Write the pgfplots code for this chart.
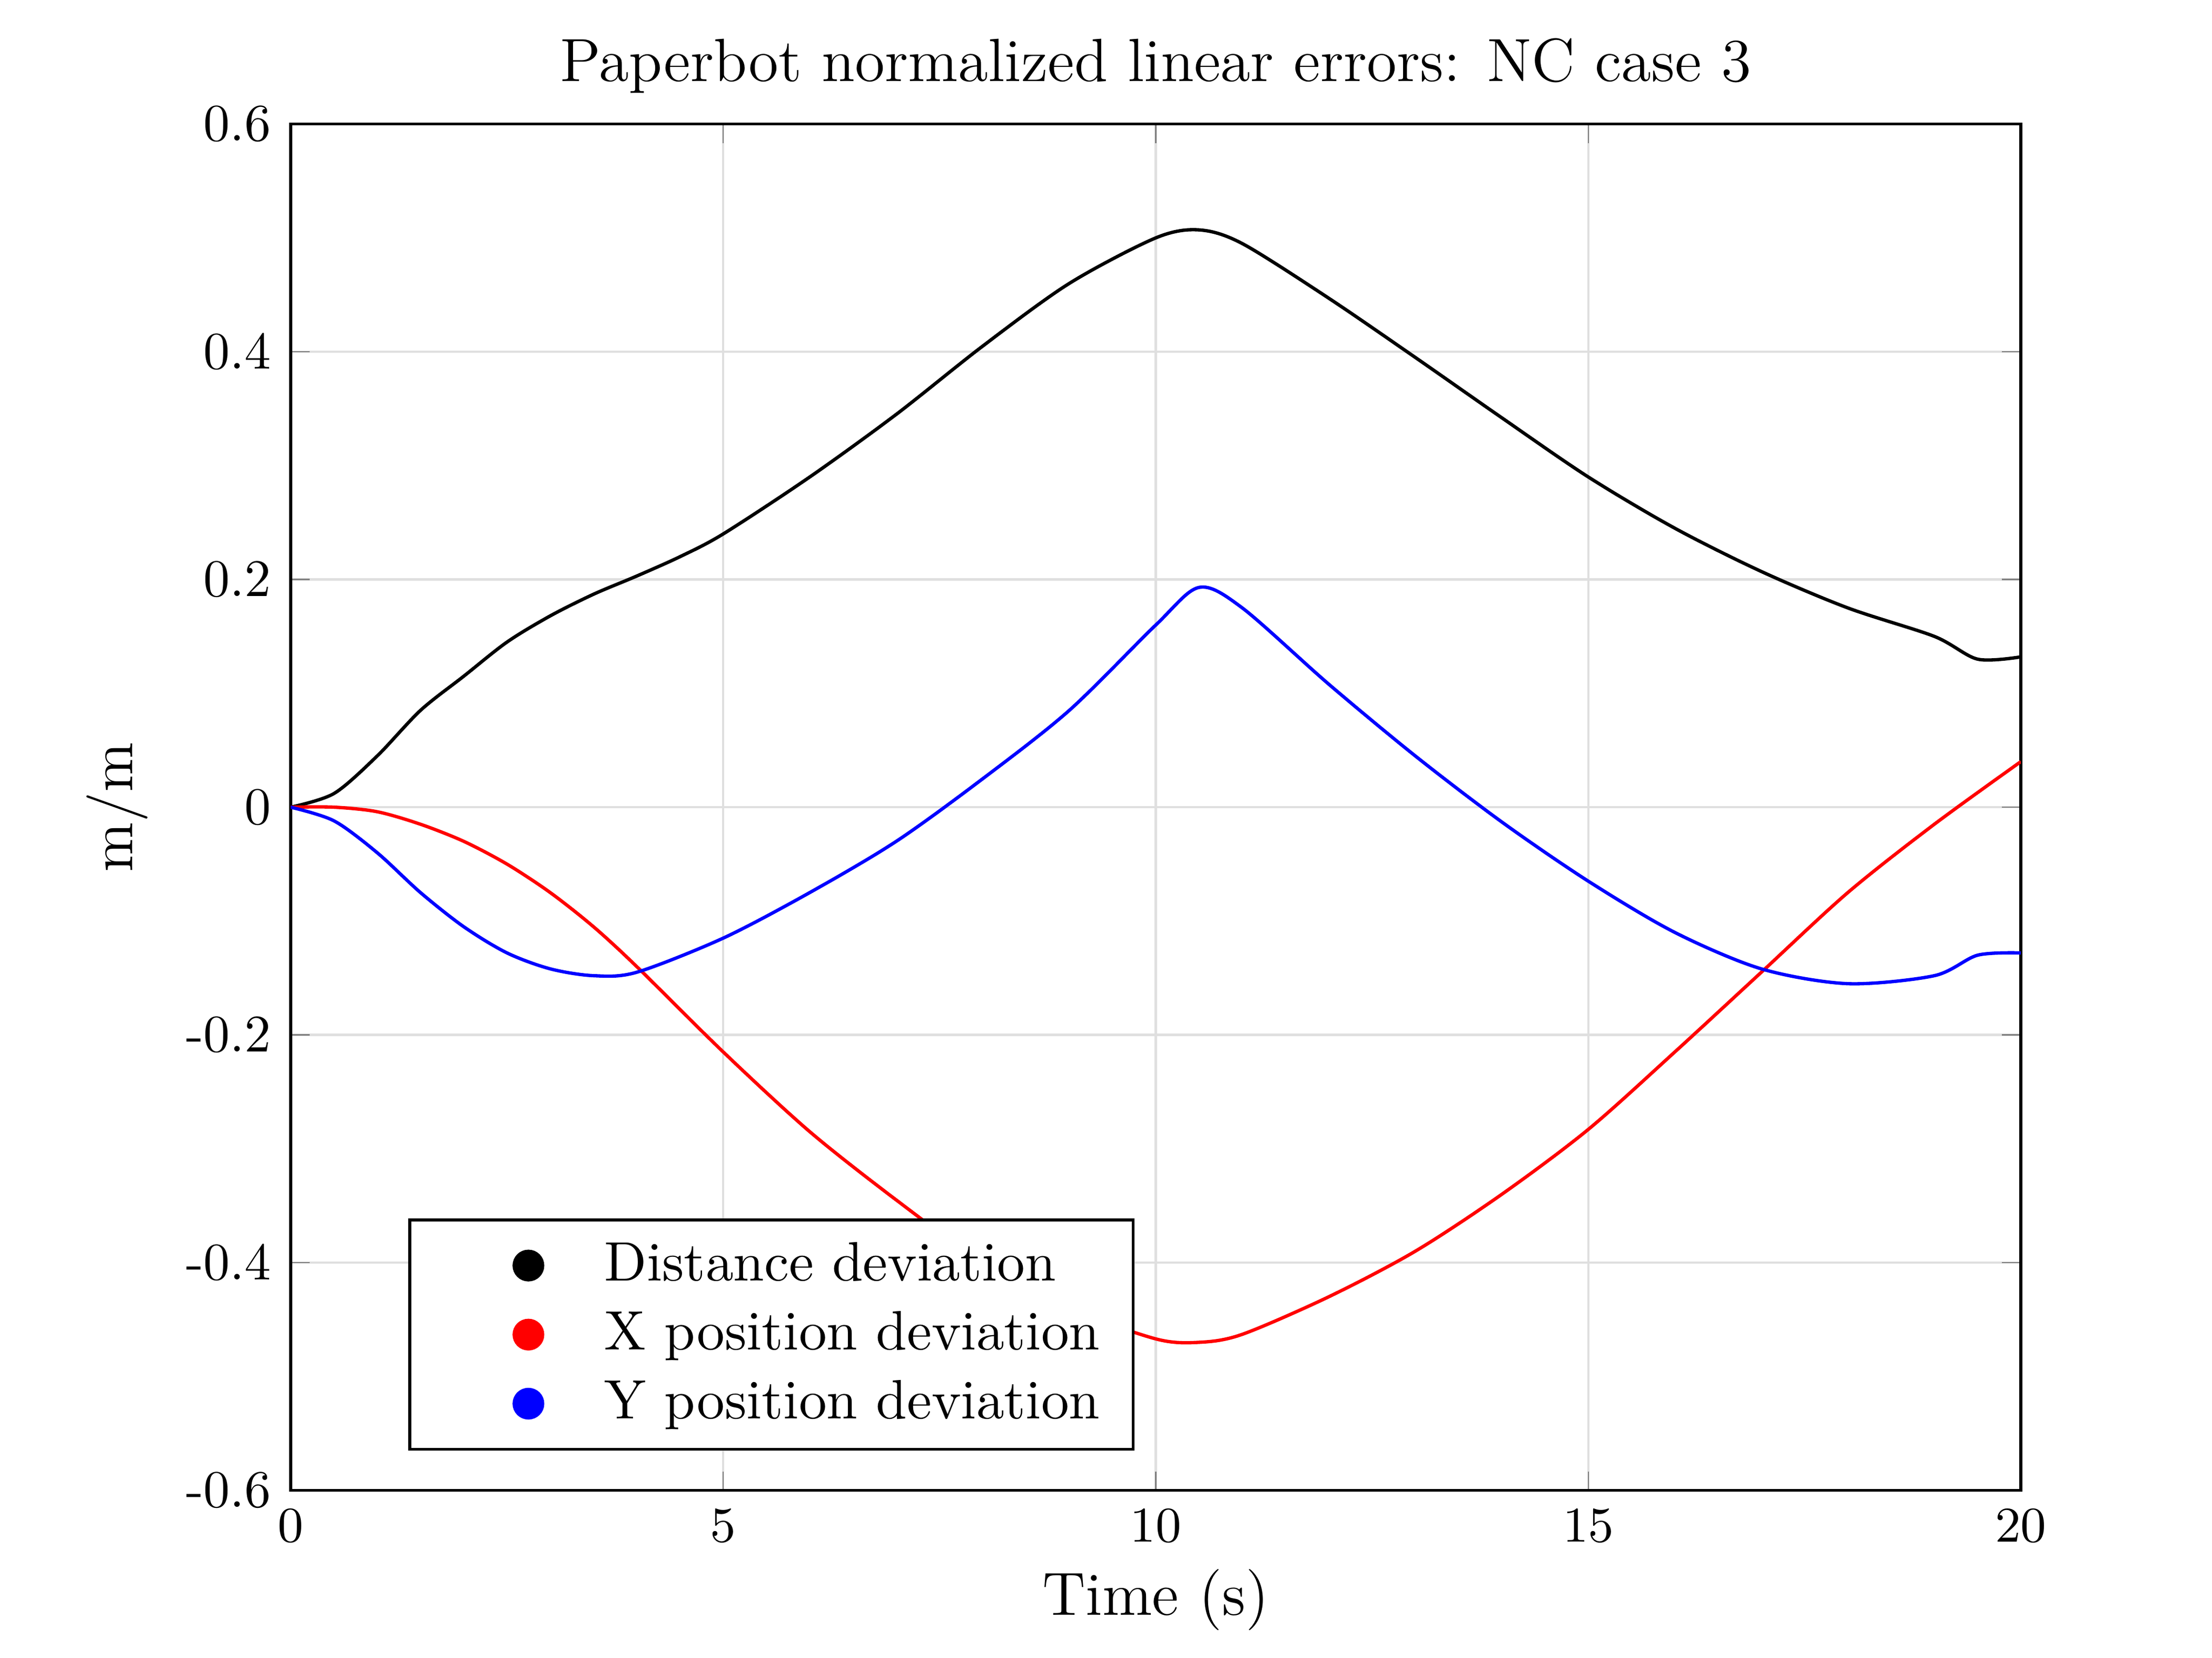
\documentclass[border=0pt]{standalone}
\usepackage{pgfplots}
\pgfplotsset{compat=1.18}
\begin{document}
\begin{tikzpicture}
\path[use as bounding box] (-1.84,-1.06) rectangle (12.16,9.435);
\begin{axis}[at={(0,0)},anchor=south west,scale only axis,
width=10.95cm,height=8.65cm,
xmin=0,xmax=20,ymin=-0.6,ymax=0.6,
xtick={0,5,...,20},ytick={-0.6,-0.4,...,0.6},
yticklabels={-0.6,-0.4,-0.2,0,0.2,0.4,0.6},
tick align=inside,tick pos=both,
major tick length=0.12cm,
grid=major,grid style={gray!25,line width=0.4pt},
axis line style={line width=0.5pt},
tick label style={font=\fontsize{9.5}{11}\selectfont},
xlabel={Time (s)},ylabel={m/m},
label style={font=\fontsize{11}{13}\selectfont},
xlabel style={yshift=2pt},
title={Paperbot normalized linear errors: NC case 3},
title style={font=\fontsize{11}{13}\selectfont,yshift=-4pt},
legend style={at={(0.068,0.029)},anchor=south west,font=\fontsize{10}{12}\selectfont,
 draw=black,line width=0.5pt,row sep=0pt,inner xsep=4pt},
legend cell align=left,
legend image code/.code={\fill[#1] (0.6cm,0cm) circle (0.09cm); \path (0,0) (1.0cm,0);},
]
\addplot[black,line width=0.6pt,smooth] coordinates {(0,0)(0.5,0.012)(1,0.045)(1.5,0.085)(2,0.115)(2.5,0.145)(3,0.168)(3.5,0.187)(4,0.203)(4.5,0.22)(5,0.24)(6,0.29)(7,0.345)(8,0.405)(9,0.46)(10,0.5)(10.5,0.507)(11,0.495)(12,0.447)(13,0.395)(14,0.342)(15,0.29)(16,0.245)(17,0.207)(18,0.175)(19,0.15)(19.5,0.13)(20,0.132)};
\addlegendentry{Distance deviation}
\addplot[red,line width=0.6pt,smooth] coordinates {(0,0)(0.5,0)(1,-0.004)(1.5,-0.015)(2,-0.03)(2.5,-0.05)(3,-0.075)(3.5,-0.105)(4,-0.14)(5,-0.215)(6,-0.285)(7,-0.345)(8,-0.4)(9,-0.44)(10,-0.467)(10.5,-0.47)(11,-0.463)(12,-0.43)(13,-0.39)(14,-0.34)(15,-0.283)(16,-0.215)(17,-0.145)(18,-0.075)(19,-0.015)(20,0.04)};
\addlegendentry{X position deviation}
\addplot[blue,line width=0.6pt,smooth] coordinates {(0,0)(0.5,-0.012)(1,-0.04)(1.5,-0.075)(2,-0.105)(2.5,-0.128)(3,-0.142)(3.5,-0.148)(4,-0.145)(5,-0.115)(6,-0.075)(7,-0.03)(8,0.025)(9,0.085)(10,0.16)(10.5,0.193)(11,0.175)(12,0.108)(13,0.045)(14,-0.013)(15,-0.065)(16,-0.11)(17,-0.142)(18,-0.155)(19,-0.148)(19.5,-0.13)(20,-0.128)};
\addlegendentry{Y position deviation}
\end{axis}
\end{tikzpicture}
\end{document}
